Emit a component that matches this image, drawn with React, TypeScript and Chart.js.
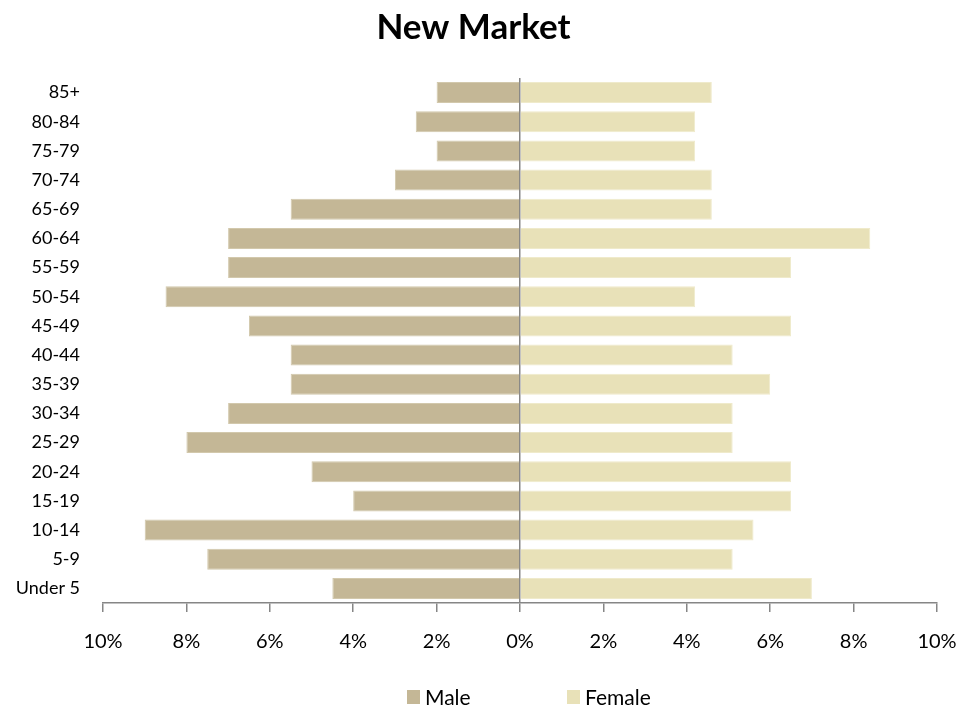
import React, { useEffect, useRef } from "react";
import { Chart, registerables } from "chart.js";

Chart.register(...registerables);

const categories = ["85+", "80-84", "75-79", "70-74", "65-69", "60-64", "55-59", "50-54", "45-49", "40-44", "35-39", "30-34", "25-29", "20-24", "15-19", "10-14", "5-9", "Under 5"];
const maleValues = [2.0, 2.5, 2.0, 3.0, 5.5, 7.0, 7.0, 8.5, 6.5, 5.5, 5.5, 7.0, 8.0, 5.0, 4.0, 9.0, 7.5, 4.5];
const femaleValues = [4.6, 4.2, 4.2, 4.6, 4.6, 8.4, 6.5, 4.2, 6.5, 5.1, 6.0, 5.1, 5.1, 6.5, 6.5, 5.6, 5.1, 7.0];
const seriesNames = ["Male", "Female"];
const titleText = "New Market";

const MALE_COLOR = "#C4B796";
const FEMALE_COLOR = "#E8E1B8";
const AXIS_COLOR = "#868686";
const FONT = "Lato, 'Open Sans', sans-serif";

const legendPlugin = {
  id: "customLegend",
  afterDraw(chart: any) {
    const { ctx, chartArea } = chart;
    const cx = (chartArea.left + chartArea.right) / 2;
    const y = chart.height - 16;
    const offsets = [-113, 47];
    ctx.save();
    ctx.font = `21px ${FONT}`;
    ctx.textBaseline = "middle";
    ctx.textAlign = "left";
    chart.data.datasets.forEach((ds: any, i: number) => {
      const x = cx + offsets[i];
      ctx.fillStyle = ds.backgroundColor;
      ctx.fillRect(x, y - 7, 13, 14);
      ctx.fillStyle = "#000";
      ctx.fillText(ds.label, x + 18, y + 1);
    });
    ctx.restore();
  },
};

export default function App() {
  const canvasRef = useRef<HTMLCanvasElement | null>(null);

  useEffect(() => {
    document.body.style.margin = "0";
    const canvas = canvasRef.current;
    if (!canvas) return;
    const chart = new Chart(canvas, {
      type: "bar",
      data: {
        labels: categories,
        datasets: [
          {
            label: seriesNames[0],
            data: maleValues.map((v) => -v),
            backgroundColor: MALE_COLOR,
            borderColor: "#D2C8AC",
            borderWidth: 1,
            barPercentage: 0.72,
            categoryPercentage: 1,
          },
          {
            label: seriesNames[1],
            data: femaleValues,
            backgroundColor: FEMALE_COLOR,
            borderColor: "#EFEACB",
            borderWidth: 1,
            barPercentage: 0.72,
            categoryPercentage: 1,
          },
        ],
      },
      options: {
        indexAxis: "y",
        animation: false,
        responsive: true,
        maintainAspectRatio: false,
        layout: { padding: { left: 10, right: 42, top: 0, bottom: 41 } },
        plugins: {
          legend: { display: false },
          tooltip: { enabled: false },
          title: {
            display: true,
            text: titleText,
            color: "#000",
            font: { family: FONT, size: 35, weight: "bold" },
            padding: { top: 7, bottom: 29 },
          },
        },
        scales: {
          x: {
            stacked: true,
            min: -10,
            max: 10,
            ticks: {
              stepSize: 2,
              color: "#000",
              font: { family: FONT, size: 20 },
              padding: 18,
              callback: (v: any) => Math.abs(Number(v)) + "%",
            },
            grid: {
              drawOnChartArea: true,
              color: (ctx: any) => (ctx.tick && ctx.tick.value === 0 ? AXIS_COLOR : "rgba(0,0,0,0)"),
              tickColor: AXIS_COLOR,
              tickLength: 9,
              lineWidth: 1.5,
            },
            border: { display: true, color: AXIS_COLOR, width: 1.5 },
          },
          y: {
            stacked: true,
            ticks: {
              color: "#000",
              font: { family: FONT, size: 18 },
              padding: 15,
            },
            grid: { display: false },
            border: { display: false },
            afterFit: (scale: any) => {
              scale.width = 93;
            },
          },
        },
      },
      plugins: [legendPlugin],
    });
    return () => chart.destroy();
  }, []);

  return (
    <div style={{ width: 979, height: 713, position: "relative" }}>
      <canvas ref={canvasRef} />
    </div>
  );
}
